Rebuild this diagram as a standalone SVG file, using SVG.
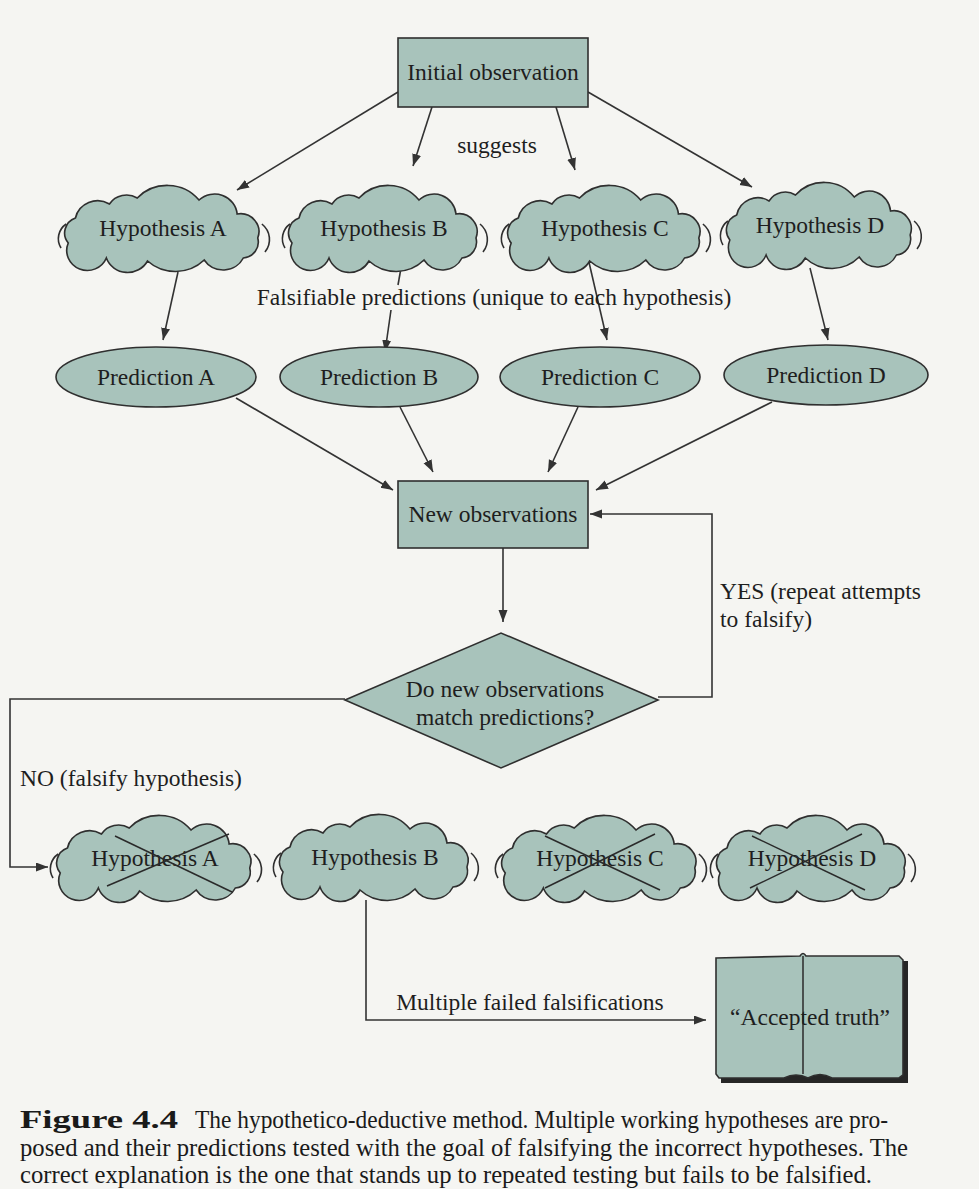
<svg xmlns="http://www.w3.org/2000/svg" xmlns:xlink="http://www.w3.org/1999/xlink" width="979" height="1189" viewBox="0 0 979 1189">
<style>
.bg{fill:#f5f5f2}
.node{fill:#a8c3bb;stroke:#2f2f2f;stroke-width:1.6}
.t{font-family:"Liberation Serif",serif;font-size:23.5px;fill:#1e1e1e;text-anchor:middle}
.lbl{font-family:"Liberation Serif",serif;font-size:23.5px;fill:#1e1e1e}
.cap{font-family:"Liberation Serif",serif;font-size:26px;fill:#1a1a1a}
.ln{fill:none;stroke:#333;stroke-width:1.6}
.x{stroke:#2a2a2a;stroke-width:1.5}
.deco{fill:none;stroke:#2f2f2f;stroke-width:1.6}
</style>
<defs>
<marker id="ah" markerWidth="13" markerHeight="10" refX="12" refY="4.5" orient="auto" markerUnits="userSpaceOnUse">
<path d="M0,0 L12,4.5 L0,9 z" fill="#333"/>
</marker>
<g id="cloud">
<path class="node" d="M -92,15 A 16 16 0 0 1 -85,-10 A 22 22 0 0 1 -52,-24 A 20 20 0 0 1 -25,-30 A 40 40 0 0 1 35,-28 A 22 22 0 0 1 72,-14 A 18 18 0 0 1 92,10 A 16 16 0 0 1 78,30 A 22 22 0 0 1 40,32 A 40 40 0 0 1 -15,33 A 22 22 0 0 1 -55,30 A 18 18 0 0 1 -92,15 Z"/>
<path class="deco" d="M -99,20 A 18 18 0 0 1 -94,-4"/>
<path class="deco" d="M 96,-4 A 20 20 0 0 1 99,24"/>
</g>
</defs>
<rect class="bg" x="0" y="0" width="979" height="1189"/>

<g id="connectors">
<path class="ln" d="M398,92 L237,190" marker-end="url(#ah)"/>
<path class="ln" d="M432,107 L413,166" marker-end="url(#ah)"/>
<path class="ln" d="M556,107 L575,170" marker-end="url(#ah)"/>
<path class="ln" d="M588,92 L752,187" marker-end="url(#ah)"/>
<path class="ln" d="M178,272 L163,340" marker-end="url(#ah)"/>
<path class="ln" d="M401,268 L398,285"/>
<path class="ln" d="M391,310 L385,352" marker-end="url(#ah)"/>
<path class="ln" d="M588,258 L607,340" marker-end="url(#ah)"/>
<path class="ln" d="M810,268 L828,340" marker-end="url(#ah)"/>
<path class="ln" d="M236,398 L393,490" marker-end="url(#ah)"/>
<path class="ln" d="M400,407 L433,472" marker-end="url(#ah)"/>
<path class="ln" d="M578,407 L548,472" marker-end="url(#ah)"/>
<path class="ln" d="M772,402 L596,490" marker-end="url(#ah)"/>
<path class="ln" d="M503,548 L503,622" marker-end="url(#ah)"/>
<path class="ln" d="M658,697 L712,697 L712,514 L590,514" marker-end="url(#ah)"/>
<path class="ln" d="M345,699 L10,699 L10,867 L48,867" marker-end="url(#ah)"/>
<path class="ln" d="M366,900 L366,1020 L706,1020" marker-end="url(#ah)"/>
<text class="lbl" x="497" y="153" text-anchor="middle">suggests</text>
<text class="lbl" x="494" y="305" text-anchor="middle">Falsifiable predictions (unique to each hypothesis)</text>
<text class="lbl" x="720" y="599">YES (repeat attempts</text>
<text class="lbl" x="720" y="627">to falsify)</text>
<text class="lbl" x="20" y="786">NO (falsify hypothesis)</text>
<text class="lbl" x="530" y="1010" text-anchor="middle">Multiple failed falsifications</text>
</g>

<g id="initial-observation">
<rect class="node" x="398" y="38" width="190" height="69"/>
<text class="t" x="493" y="80">Initial observation</text>
</g>

<g id="hypothesis-a">
<use xlink:href="#cloud" transform="translate(163,228) scale(1.03,1)"/>
<text class="t" x="163" y="236">Hypothesis A</text>
</g>
<g id="hypothesis-b">
<use xlink:href="#cloud" transform="translate(384,228) scale(1.0,1)"/>
<text class="t" x="384" y="236">Hypothesis B</text>
</g>
<g id="hypothesis-c">
<use xlink:href="#cloud" transform="translate(605,228) scale(1.02,1)"/>
<text class="t" x="605" y="236">Hypothesis C</text>
</g>
<g id="hypothesis-d">
<use xlink:href="#cloud" transform="translate(820,225) scale(0.98,1)"/>
<text class="t" x="820" y="233">Hypothesis D</text>
</g>

<g id="prediction-a">
<ellipse class="node" cx="156" cy="377" rx="100" ry="30"/>
<text class="t" x="156" y="385">Prediction A</text>
</g>
<g id="prediction-b">
<ellipse class="node" cx="379" cy="377" rx="99" ry="30"/>
<text class="t" x="379" y="385">Prediction B</text>
</g>
<g id="prediction-c">
<ellipse class="node" cx="600" cy="377" rx="100" ry="30"/>
<text class="t" x="600" y="385">Prediction C</text>
</g>
<g id="prediction-d">
<ellipse class="node" cx="826" cy="375" rx="102" ry="30"/>
<text class="t" x="826" y="383">Prediction D</text>
</g>

<g id="new-observations">
<rect class="node" x="398" y="481" width="190" height="67"/>
<text class="t" x="493" y="522">New observations</text>
</g>

<g id="decision">
<path class="node" d="M345,700 L501,633 L658,700 L501,768 Z"/>
<text class="t" x="505" y="697">Do new observations</text>
<text class="t" x="505" y="725">match predictions?</text>
</g>

<g id="falsified-a">
<use xlink:href="#cloud" transform="translate(155,858) scale(1.03,1)"/>
<text class="t" x="155" y="866">Hypothesis A</text>
<line class="x" x1="107" y1="886" x2="229" y2="834"/>
<line class="x" x1="115" y1="836" x2="232" y2="892"/>
</g>
<g id="hypothesis-b-survives">
<use xlink:href="#cloud" transform="translate(375,857) scale(1.0,1)"/>
<text class="t" x="375" y="865">Hypothesis B</text>
</g>
<g id="falsified-c">
<use xlink:href="#cloud" transform="translate(600,858) scale(1.03,1)"/>
<text class="t" x="600" y="866">Hypothesis C</text>
<line class="x" x1="545" y1="888" x2="655" y2="834"/>
<line class="x" x1="545" y1="836" x2="660" y2="890"/>
</g>
<g id="falsified-d">
<use xlink:href="#cloud" transform="translate(812,858) scale(1.0,1)"/>
<text class="t" x="812" y="866">Hypothesis D</text>
<line class="x" x1="750" y1="888" x2="862" y2="834"/>
<line class="x" x1="752" y1="836" x2="865" y2="890"/>
</g>

<g id="accepted-truth">
<path fill="#262626" d="M721,962 L908,961 L908,1083 L721,1083 Z"/>
<path class="node" d="M716,958 L800,956 Q803,951 806,956 L899,956 L903,960 L903,1075 L899,1078 L832,1078 Q820,1071 808,1078 Q796,1072 784,1078 L719,1078 L716,1074 Z"/>
<path class="ln" d="M803,956 L803,1074"/>
<text class="t" x="810" y="1025">“Accepted truth”</text>
</g>

<g id="caption">
<text class="cap" x="20" y="1128" font-weight="bold" textLength="158" lengthAdjust="spacingAndGlyphs">Figure 4.4</text>
<text class="cap" x="195" y="1128" textLength="693" lengthAdjust="spacingAndGlyphs">The hypothetico-deductive method. Multiple working hypotheses are pro-</text>
<text class="cap" x="20" y="1156" textLength="888" lengthAdjust="spacingAndGlyphs">posed and their predictions tested with the goal of falsifying the incorrect hypotheses. The</text>
<text class="cap" x="20" y="1183" textLength="852" lengthAdjust="spacingAndGlyphs">correct explanation is the one that stands up to repeated testing but fails to be falsified.</text>
</g>
</svg>
